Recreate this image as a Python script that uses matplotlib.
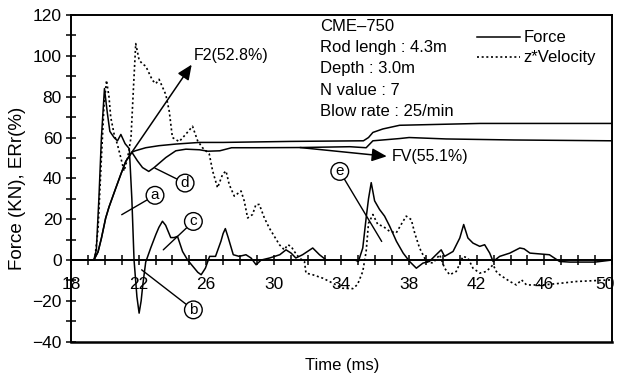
import matplotlib
matplotlib.use("Agg")
import matplotlib.pyplot as plt
from matplotlib.transforms import ScaledTranslation

plt.rcParams['font.family'] = ['Liberation Sans', 'DejaVu Sans']

# Force trace (KN) vs time (ms)
force_t = [18, 19.35, 19.5, 19.65, 19.8, 19.98, 20.15, 20.3, 20.55, 20.75, 20.95,
           21.2, 21.45, 21.6, 21.73, 21.9, 22.03, 22.15, 22.25, 22.42, 22.72,
           23.02, 23.2, 23.41, 23.6, 23.75, 23.9, 24.1, 24.3, 24.6, 24.9, 25.2,
           25.5, 25.7, 25.95, 26.2, 26.55, 26.87, 27.0, 27.13, 27.3, 27.6, 27.95,
           28.35, 28.65, 28.95, 29.25, 29.75, 30.35, 30.72, 31.02, 31.3, 31.7,
           32.3, 32.7, 33.1, 34.0, 34.8, 35.0, 35.26, 35.46, 35.6, 35.76, 35.96,
           36.25, 36.55, 36.85, 37.25, 37.65, 38.03, 38.43, 38.82, 39.2, 39.6,
           39.9, 40.1, 40.6, 41.0, 41.23, 41.48, 41.78, 42.18, 42.47, 42.77,
           42.97, 43.36, 43.96, 44.55, 44.8, 45.15, 46.3, 46.9, 47.5, 49.0, 50]
force_v = [0, 0, 5, 30, 60, 84, 72, 63, 60, 58.4, 61.5,
           57, 54.5, 30, 0, -18, -26, -20, -12, -1, 6,
           12.5, 16, 19, 17, 14, 11, 11, 11.6, 4.2, 0, -3,
           -6, -7.2, -4, 1.8, 1.8, 9.2, 13, 15.4, 11, 2.6, 1.8,
           2.6, 1, -2.3, 0, 1, 2.6, 5, 3.4, 1, 2.6,
           5.9, 2.6, 0, 0, 0, -0.7, 5.9, 20.6, 30, 37.9, 29,
           24.8, 21.5, 16.6, 9.2, 3.4, -0.7, -4, -1.5, -0.7, 2.6,
           5, 1.8, 4.2, 10.8, 17.4, 10.8, 8.3, 6.7, 7.5, 3.4,
           -0.7, 1.8, 3.4, 5.9, 5.5, 3.4, 2.6, -0.7, -1, -1, 0]

# Impedance x velocity trace
vel_t = [18, 19.4, 19.6, 19.8, 19.95, 20.1, 20.25, 20.35, 20.55, 20.74, 20.95,
         21.14, 21.35, 21.55, 21.7, 21.83, 22.03, 22.23, 22.42, 22.82, 23.02,
         23.21, 23.61, 23.81, 24.0, 24.4, 24.8, 25.19, 25.49, 25.78, 26.18,
         26.38, 26.67, 26.97, 27.17, 27.36, 27.66, 28.06, 28.25, 28.45, 28.74,
         28.94, 29.14, 29.44, 29.73, 30.03, 30.33, 30.62, 30.82, 31.02, 31.21,
         31.51, 31.81, 31.9, 32.3, 32.9, 33.29, 34.08, 34.67, 34.95, 35.26,
         35.46, 35.6, 35.86, 36.15, 36.45, 36.84, 37.24, 37.53, 37.83, 38.13,
         38.33, 38.62, 39.02, 39.41, 39.81, 40.1, 40.4, 40.79, 41.19, 41.48,
         41.78, 42.18, 42.57, 42.97, 43.16, 43.36, 43.96, 44.35, 44.65, 44.95,
         45.93, 46.92, 47.9, 50]
vel_v = [0, 0, 15, 50, 75, 88, 79.8, 70, 61.7, 56.8, 50,
         43.6, 50, 60, 85, 106, 98, 96, 95, 88, 86.4,
         88.5, 81, 73, 60, 58, 61.7, 65.5, 58.4, 55, 51.9,
         43.6, 35.4, 42, 43.6, 37, 31.3, 33.8, 28.9, 20.6, 22.3,
         27.2, 27.2, 20.6, 15.7, 11.6, 7.5, 5, 7.5, 6.7, 4.2,
         1, -0.7, -6.4, -7.2, -8.9, -10.5, -13.8, -14, -12, -5.6,
         4.2, 18, 22.3, 17.4, 16.6, 14.1, 13.3, 17.4, 21.5, 19.8,
         13.3, 5.9, -0.7, -1.5, 2.6, -4, -7.2, -5.6, 1.8, 1,
         -4, -6.4, -5.6, -2.3, -5.6, -7.2, -10.5, -12.2, -9.7, -12.2,
         -12.2, -11.4, -10.5, -9.7]

# Transferred energy ratio curves (%), common rise then split at the junction
rise_t = [18, 19.35, 19.6, 19.8, 20.05, 20.25, 20.64, 20.94, 21.24, 21.6]
rise_v = [0, 0, 4, 10.7, 20.5, 26, 35, 41.8, 48.3, 52.8]

f2_t = rise_t + [21.8, 22.42, 23.2, 24.2, 25.6, 27.0, 31.0, 35.3, 35.6, 35.86,
                 36.45, 37.44, 42.2, 50]
f2_v = rise_v + [53.5, 55, 56, 56.8, 57.6, 57.6, 58.1, 58.4, 60, 62.5,
                 64.2, 66, 66.9, 66.9]

fv_t = rise_t + [21.93, 22.23, 22.6, 22.92, 23.61, 24.2, 24.8, 25.6, 26.1,
                 26.8, 27.5, 29.0, 31.55, 34.5, 35.46, 35.86, 37.44, 38.0,
                 40.2, 44.2, 50]
fv_v = rise_v + [48.6, 45.3, 43.4, 45.3, 50.2, 53.5, 54.3, 54, 53.3,
                 53.5, 55, 55, 55.1, 55.5, 55, 58.4, 59.5, 60,
                 59.3, 58.8, 58.4]

x_major = list(range(18, 51, 4))
x_minor = list(range(18, 51, 1))
y_major = list(range(-40, 121, 20))
y_minor = list(range(-40, 121, 10))

info_lines = ["CME\u2013750", "Rod lengh : 4.3m", "Depth : 3.0m",
              "N value : 7", "Blow rate : 25/min"]

# circled markers: (letter, label position, point on curve)
markers = [
    ("a", (22.97, 31.7), (21.0, 22.2)),
    ("b", (25.24, -24.4), (22.18, -4.8)),
    ("c", (25.24, 18.9), (23.46, 5.0)),
    ("d", (24.75, 37.7), (22.97, 45.0)),
    ("e", (33.9, 43.4), (36.38, 9.1)),
]

fig = plt.figure(figsize=(6.2, 3.81), dpi=100)
ax = fig.add_axes([0.1145, 0.1031, 0.8725, 0.8575])

ax.plot(force_t, force_v, color="black", lw=1.1, label="Force")
ax.plot(vel_t, vel_v, color="black", lw=1.2, linestyle=(0, (1.2, 1.6)),
        label="z*Velocity")
ax.plot(f2_t, f2_v, color="black", lw=1.1)
ax.plot(fv_t, fv_v, color="black", lw=1.1)

ax.set_xlim(18, 50)
ax.set_ylim(-40, 120)

# x axis sits on the zero line; the frame bottom is drawn separately
ax.spines["bottom"].set_position(("data", 0))
for s in ax.spines.values():
    s.set_linewidth(1.4)
ax.axhline(-40, color="black", lw=1.8, clip_on=False)

ax.set_xticks(x_major)
ax.set_xticks(x_minor, minor=True)
ax.set_yticks(y_major)
ax.set_yticks(y_minor, minor=True)
ax.tick_params(axis="both", which="both", direction="inout", length=7,
               width=1.1)
ax.tick_params(axis="x", which="major", pad=9, labelsize=12.5)
ax.tick_params(axis="y", which="major", pad=3, labelsize=12.5)

# keep the last time label inside the figure edge
last = ax.get_xticklabels()[-1]
last.set_transform(last.get_transform()
                   + ScaledTranslation(-5 / 72, 0, fig.dpi_scale_trans))

ax.set_xlabel("Time (ms)", fontsize=12)
ax.xaxis.set_label_coords(0.501, -0.05)
ax.set_ylabel("Force (KN), ERr(%)", fontsize=13.5)
ax.yaxis.set_label_coords(-0.083, 0.47)

for i, line in enumerate(info_lines):
    ax.text(0.46, 0.965 - i * 0.065, line, transform=ax.transAxes,
            ha="left", va="center", fontsize=12)

ax.legend(loc="upper left", bbox_to_anchor=(0.75, 0.953), frameon=False,
          fontsize=12, handlelength=2.6, handletextpad=0.2,
          labelspacing=0.3, borderpad=0, borderaxespad=0)

# energy ratio call-outs
ax.annotate("", xy=(25.14, 95.7), xytext=(21.6, 52.8),
            arrowprops=dict(arrowstyle="-|>,head_length=0.5,head_width=0.22",
                            mutation_scale=18, lw=1.1, color="black",
                            shrinkA=0, shrinkB=0))
ax.text(25.25, 100, "F2(52.8%)", ha="left", va="center", fontsize=11.5)
ax.annotate("", xy=(36.68, 50.8), xytext=(31.55, 55.1),
            arrowprops=dict(arrowstyle="-|>,head_length=0.5,head_width=0.22",
                            mutation_scale=18, lw=1.1, color="black",
                            shrinkA=0, shrinkB=0))
ax.text(37.0, 50.8, "FV(55.1%)", ha="left", va="center", fontsize=11.5)

for letter, pos, target in markers:
    ax.annotate(letter, xy=target, xytext=pos, ha="center", va="center",
                fontsize=11,
                bbox=dict(boxstyle="circle,pad=0.12", fc="white", ec="black",
                          lw=1.0),
                arrowprops=dict(arrowstyle="-", lw=1.0, color="black",
                                shrinkA=0, shrinkB=0))

fig.savefig("out.png", dpi=100)
